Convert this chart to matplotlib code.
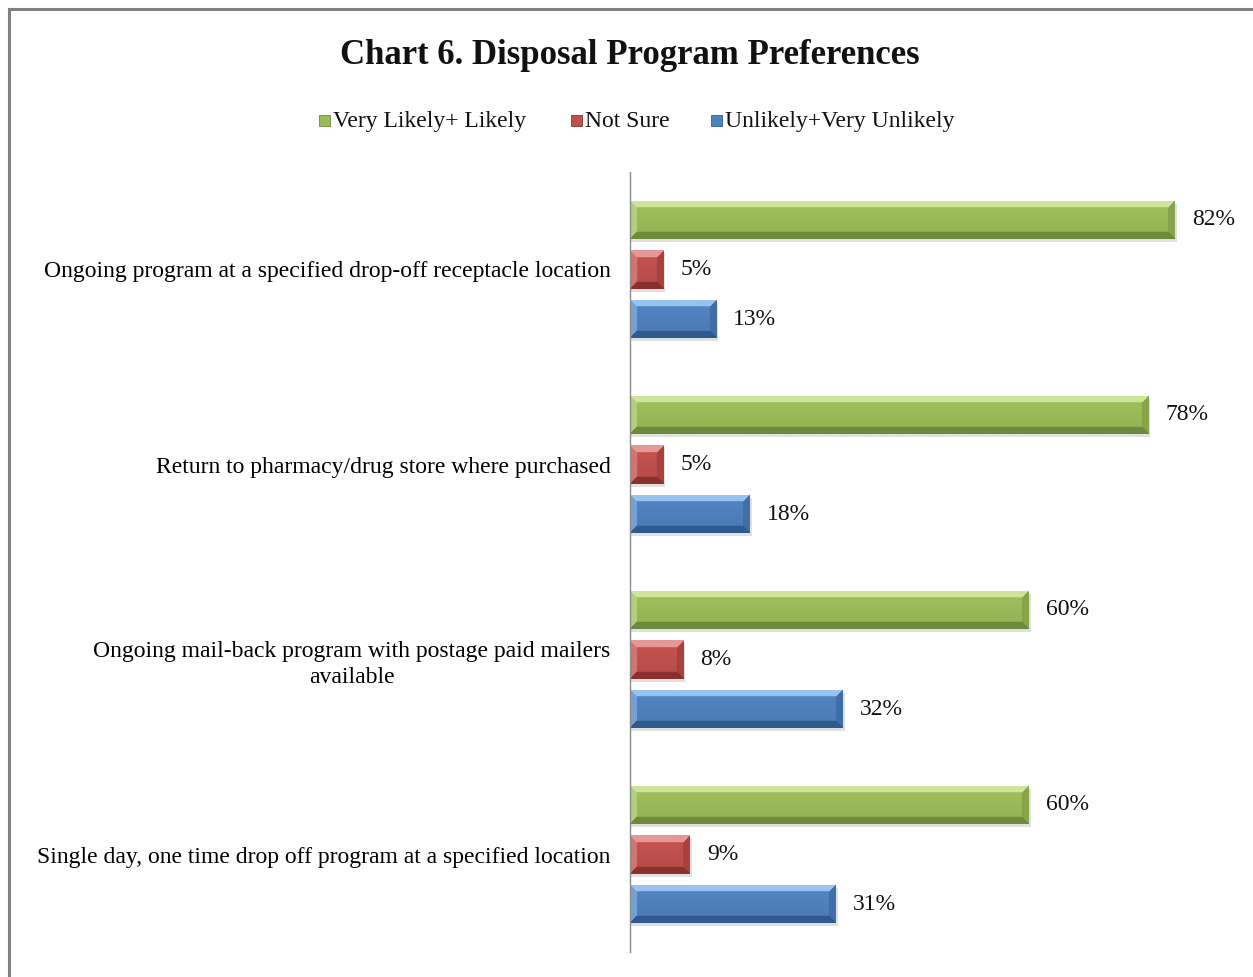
import numpy as np
import matplotlib
matplotlib.use("Agg")
import matplotlib.pyplot as plt
from matplotlib.patches import Rectangle
from matplotlib.lines import Line2D
from matplotlib.colors import to_rgb

# ---- data ----
categories = [
    "Ongoing program at a specified drop-off receptacle location",
    "Return to pharmacy/drug store where purchased",
    "Ongoing mail-back program with postage paid mailers\navailable",
    "Single day, one time drop off program at a specified location",
]
series_names = ["Very Likely+ Likely", "Not Sure", "Unlikely+Very Unlikely"]
likely = [82, 78, 60, 60]
not_sure = [5, 5, 8, 9]
unlikely = [13, 18, 32, 31]
title = "Chart 6. Disposal Program Preferences"

# face / light bevel / dark bevel for each series
palette = [
    ("#9BBB59", "#CFE49A", "#6F8A3A"),
    ("#C0504D", "#E59896", "#8A302D"),
    ("#4F81BD", "#98C2F0", "#2F5A8E"),
]

plt.rcParams["font.family"] = ["Liberation Serif", "DejaVu Serif"]

W, H = 1253, 977
fig = plt.figure(figsize=(W / 100, H / 100), dpi=100)
ax = fig.add_axes([630 / W, 1 - 952 / H, 598 / W, 780 / H])
ax.set_xlim(0, 90)
ax.set_ylim(4, 0)

offsets = [-0.254, 0.0, 0.254]
bar_h = 0.195
series = [likely, not_sure, unlikely]
px_per_x = 598 / 90
px_per_y = 780 / 4


def bevel_image(width_px, height_px, face, light, dark, bevel=7):
    nx = max(int(round(width_px)), 2)
    ny = max(int(round(height_px)), 2)
    u = np.arange(nx)[None, :] + 0.5
    v = np.arange(ny)[:, None] + 0.5
    d_top = np.broadcast_to(v, (ny, nx))
    d_bot = np.broadcast_to(ny - v, (ny, nx))
    d_left = np.broadcast_to(u, (ny, nx))
    d_right = np.broadcast_to(nx - u, (ny, nx))
    f = np.array(to_rgb(face))
    lt = np.array(to_rgb(light))
    dk = np.array(to_rgb(dark))
    # face with a gentle vertical shading
    t = (v / ny)[..., None]
    img = np.broadcast_to(f * (1.04 - 0.10 * t), (ny, nx, 3)).copy()
    stack = np.stack([d_top, d_bot, d_left, d_right])
    nearest = np.argmin(stack, axis=0)
    dmin = np.min(stack, axis=0)
    edge = dmin < bevel
    mix_light = 0.5 * f + 0.5 * lt
    mix_dark = 0.55 * f + 0.45 * dk
    img[edge & (nearest == 0)] = lt
    img[edge & (nearest == 1)] = dk
    img[edge & (nearest == 2)] = mix_light
    img[edge & (nearest == 3)] = mix_dark
    img = np.clip(img, 0, 1)
    return img


y_centers = np.arange(len(categories)) + 0.5
for s, (vals, off, cols) in enumerate(zip(series, offsets, palette)):
    ys = y_centers + off
    # soft drop shadow
    for y, v in zip(ys, vals):
        ax.add_patch(Rectangle((0, y - bar_h / 2 + 3 / px_per_y), v + 2 / px_per_x, bar_h,
                               facecolor="#000000", alpha=0.12, edgecolor="none", zorder=1))
    bars = ax.barh(ys, vals, height=bar_h, color=cols[0], edgecolor="none", zorder=2)
    for rect, v, y in zip(bars.patches, vals, ys):
        img = bevel_image(v * px_per_x, bar_h * px_per_y, *cols)
        im = ax.imshow(img, extent=(0, v, y + bar_h / 2, y - bar_h / 2),
                       aspect="auto", origin="upper", zorder=3, interpolation="bilinear")
        im.set_clip_path(rect)
        ax.annotate(f"{v}%", xy=(v, y), xytext=(17, 0), textcoords="offset pixels",
                    ha="left", va="center", fontsize=17, color="#111111")

ax.set_xlim(0, 90)
ax.set_ylim(4, 0)
ax.set_yticks(y_centers)
ax.set_yticklabels(categories, fontsize=17, multialignment="center", linespacing=1.3)
ax.tick_params(axis="y", length=0, pad=14)
ax.set_xticks([])
for side in ("top", "right", "bottom"):
    ax.spines[side].set_visible(False)
ax.spines["left"].set_color("#8c8c8c")
ax.spines["left"].set_linewidth(1.0)
ax.spines["left"].set_zorder(5)

fig.text(630 / W, 1 - 55 / H, title, ha="center", va="center",
         fontsize=25, fontweight="bold", color="#111111")

# legend row: small square keys with labels sharing one baseline
legend_text_x = [333, 585, 725]
legend_baseline = 127
key = 11
for name, cols, tx in zip(series_names, palette, legend_text_x):
    fig.add_artist(Rectangle(((tx - 3 - key) / W, 1 - (legend_baseline - 1) / H), key / W, key / H,
                             transform=fig.transFigure, facecolor=cols[0],
                             edgecolor=cols[2], linewidth=0.6))
    fig.text(tx / W, 1 - legend_baseline / H, name, ha="left", va="baseline",
             fontsize=17, color="#111111")

# outer frame (top and left edges)
fig.add_artist(Line2D([9 / W, 1.0], [1 - 9 / H, 1 - 9 / H], transform=fig.transFigure,
                      color="#808080", linewidth=2.2))
fig.add_artist(Line2D([9 / W, 9 / W], [0.0, 1 - 9 / H], transform=fig.transFigure,
                      color="#808080", linewidth=2.2))

fig.savefig("out.png", dpi=100, facecolor="white")
